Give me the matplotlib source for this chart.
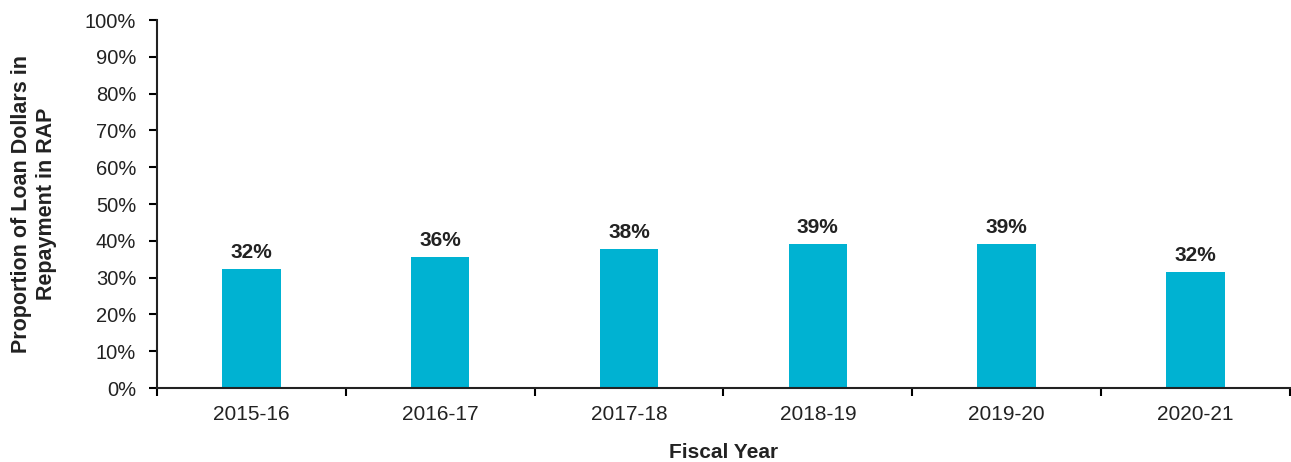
import matplotlib.pyplot as plt
from matplotlib.ticker import PercentFormatter

plt.rcParams['font.family'] = ['Liberation Sans', 'DejaVu Sans']

years = ["2015-16", "2016-17", "2017-18", "2018-19", "2019-20", "2020-21"]
shares = [32.3, 35.5, 37.7, 39.2, 39.2, 31.6]
labels = ["32%", "36%", "38%", "39%", "39%", "32%"]

fig = plt.figure(figsize=(12.91, 4.62), dpi=100)
ax = fig.add_axes([0.1216, 0.160, 0.8775, 0.7967])

x = list(range(len(years)))
bars = ax.bar(x, shares, width=0.31, color="#00B2D2")

for bar, text in zip(bars, labels):
    ax.annotate(text, (bar.get_x() + bar.get_width() / 2, bar.get_height()),
                xytext=(0, 5), textcoords="offset points",
                ha="center", va="bottom", fontsize=15, fontweight="bold",
                color="#222222")

ax.set_xlim(-0.5, len(years) - 0.5)
ax.set_ylim(0, 100)
ax.set_yticks(range(0, 101, 10))
ax.yaxis.set_major_formatter(PercentFormatter(decimals=0))

# category labels centered, ticks at category boundaries
ax.set_xticks(x)
ax.set_xticklabels(years)
ax.set_xticks([i - 0.5 for i in range(len(years) + 1)], minor=True)
ax.tick_params(axis="x", which="major", length=0, pad=12, labelsize=15,
               labelcolor="#222222")
ax.tick_params(axis="x", which="minor", length=6, width=1.5, direction="out")
ax.tick_params(axis="y", length=6, width=1.5, labelsize=14.5, pad=9,
               labelcolor="#222222")

for side in ("top", "right"):
    ax.spines[side].set_visible(False)
for side in ("left", "bottom"):
    ax.spines[side].set_linewidth(1.5)
    ax.spines[side].set_color("#222222")

ax.set_xlabel("Fiscal Year", fontsize=15, fontweight="bold", labelpad=14,
              color="#222222")
ax.set_ylabel("Proportion of Loan Dollars in\nRepayment in RAP",
              fontsize=15.5, fontweight="bold", labelpad=20, color="#222222",
              linespacing=1.25)

fig.savefig("out.png", dpi=100)
